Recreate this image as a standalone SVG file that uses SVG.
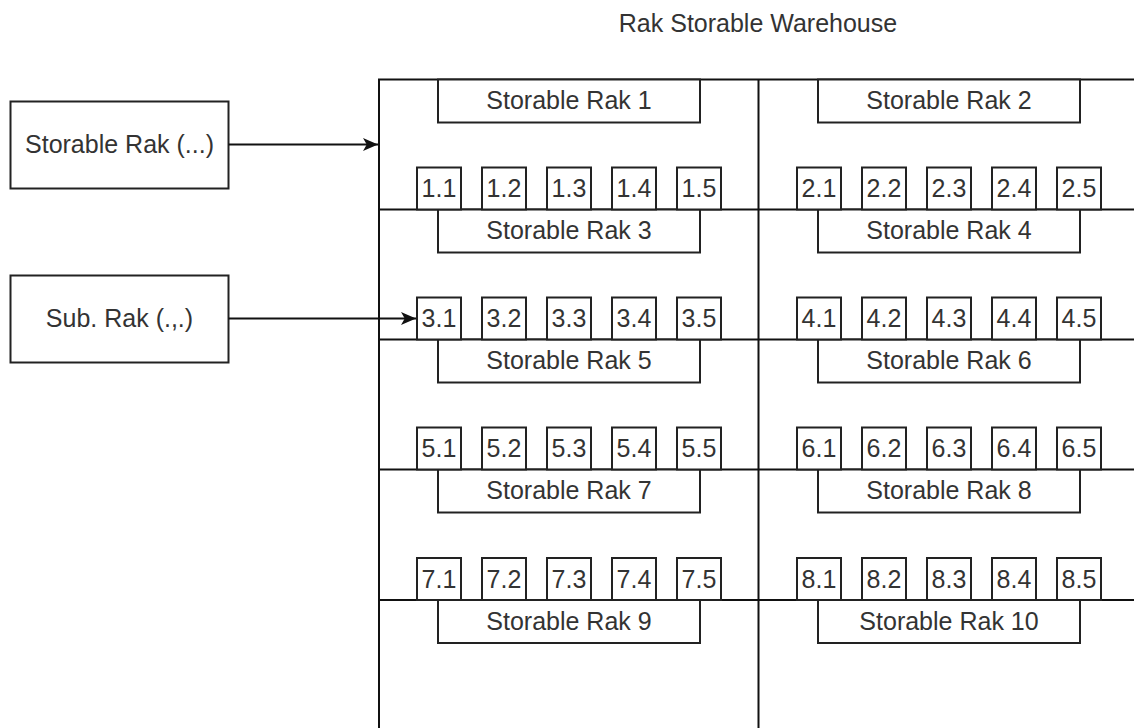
<svg xmlns="http://www.w3.org/2000/svg" width="1134" height="728" viewBox="0 0 1134 728">
<defs>
<style>
.b{fill:#fff;stroke:#222;stroke-width:2}
.w{fill:none;stroke:#111;stroke-width:2}
.t{font-family:"Liberation Sans",Arial,sans-serif;font-size:25px;fill:#333;text-anchor:middle}
.c{stroke:#111;stroke-width:2;fill:none}
</style>
<marker id="ah" viewBox="0 0 10 10" refX="10" refY="5" markerWidth="15" markerHeight="13" markerUnits="userSpaceOnUse" orient="auto" preserveAspectRatio="none">
<path d="M0,0 L10,5 L0,10 L2.5,5 Z" fill="#111"/>
</marker>
<g id="sub"><rect class="b" x="0" y="0" width="44" height="42"/></g>
</defs>
<rect width="1134" height="728" fill="#fff"/>
<text class="t" x="758" y="32">Rak Storable Warehouse</text>
<g id="warehouse">
<path class="w" d="M379,728 V79.5 H1134 M758.5,79.5 V728 M379,209.5 H1134 M379,339.5 H1134 M379,469.5 H1134 M379,600 H1134"/>
</g>
<g id="rak1"><rect class="b" x="438" y="79.5" width="262" height="43"/><text class="t" x="569" y="109">Storable Rak 1</text></g>
<g id="rak2"><rect class="b" x="818" y="79.5" width="262" height="43"/><text class="t" x="949" y="109">Storable Rak 2</text></g>
<g id="rak3"><rect class="b" x="438" y="209.5" width="262" height="43"/><text class="t" x="569" y="239">Storable Rak 3</text></g>
<g id="rak4"><rect class="b" x="818" y="209.5" width="262" height="43"/><text class="t" x="949" y="239">Storable Rak 4</text></g>
<g id="rak5"><rect class="b" x="438" y="339.5" width="262" height="43"/><text class="t" x="569" y="369">Storable Rak 5</text></g>
<g id="rak6"><rect class="b" x="818" y="339.5" width="262" height="43"/><text class="t" x="949" y="369">Storable Rak 6</text></g>
<g id="rak7"><rect class="b" x="438" y="469.5" width="262" height="43"/><text class="t" x="569" y="499">Storable Rak 7</text></g>
<g id="rak8"><rect class="b" x="818" y="469.5" width="262" height="43"/><text class="t" x="949" y="499">Storable Rak 8</text></g>
<g id="rak9"><rect class="b" x="438" y="600" width="262" height="43"/><text class="t" x="569" y="630">Storable Rak 9</text></g>
<g id="rak10"><rect class="b" x="818" y="600" width="262" height="43"/><text class="t" x="949" y="630">Storable Rak 10</text></g>

<g id="subs1">
<g id="s1-1"><use href="#sub" x="417" y="167.5"/><text class="t" x="439" y="197">1.1</text></g>
<g id="s1-2"><use href="#sub" x="482" y="167.5"/><text class="t" x="504" y="197">1.2</text></g>
<g id="s1-3"><use href="#sub" x="547" y="167.5"/><text class="t" x="569" y="197">1.3</text></g>
<g id="s1-4"><use href="#sub" x="612" y="167.5"/><text class="t" x="634" y="197">1.4</text></g>
<g id="s1-5"><use href="#sub" x="677" y="167.5"/><text class="t" x="699" y="197">1.5</text></g>
</g>
<g id="subs2">
<g id="s2-1"><use href="#sub" x="797" y="167.5"/><text class="t" x="819" y="197">2.1</text></g>
<g id="s2-2"><use href="#sub" x="862" y="167.5"/><text class="t" x="884" y="197">2.2</text></g>
<g id="s2-3"><use href="#sub" x="927" y="167.5"/><text class="t" x="949" y="197">2.3</text></g>
<g id="s2-4"><use href="#sub" x="992" y="167.5"/><text class="t" x="1014" y="197">2.4</text></g>
<g id="s2-5"><use href="#sub" x="1057" y="167.5"/><text class="t" x="1079" y="197">2.5</text></g>
</g>
<g id="subs3">
<g id="s3-1"><use href="#sub" x="417" y="297.5"/><text class="t" x="439" y="327">3.1</text></g>
<g id="s3-2"><use href="#sub" x="482" y="297.5"/><text class="t" x="504" y="327">3.2</text></g>
<g id="s3-3"><use href="#sub" x="547" y="297.5"/><text class="t" x="569" y="327">3.3</text></g>
<g id="s3-4"><use href="#sub" x="612" y="297.5"/><text class="t" x="634" y="327">3.4</text></g>
<g id="s3-5"><use href="#sub" x="677" y="297.5"/><text class="t" x="699" y="327">3.5</text></g>
</g>
<g id="subs4">
<g id="s4-1"><use href="#sub" x="797" y="297.5"/><text class="t" x="819" y="327">4.1</text></g>
<g id="s4-2"><use href="#sub" x="862" y="297.5"/><text class="t" x="884" y="327">4.2</text></g>
<g id="s4-3"><use href="#sub" x="927" y="297.5"/><text class="t" x="949" y="327">4.3</text></g>
<g id="s4-4"><use href="#sub" x="992" y="297.5"/><text class="t" x="1014" y="327">4.4</text></g>
<g id="s4-5"><use href="#sub" x="1057" y="297.5"/><text class="t" x="1079" y="327">4.5</text></g>
</g>
<g id="subs5">
<g id="s5-1"><use href="#sub" x="417" y="427.5"/><text class="t" x="439" y="457">5.1</text></g>
<g id="s5-2"><use href="#sub" x="482" y="427.5"/><text class="t" x="504" y="457">5.2</text></g>
<g id="s5-3"><use href="#sub" x="547" y="427.5"/><text class="t" x="569" y="457">5.3</text></g>
<g id="s5-4"><use href="#sub" x="612" y="427.5"/><text class="t" x="634" y="457">5.4</text></g>
<g id="s5-5"><use href="#sub" x="677" y="427.5"/><text class="t" x="699" y="457">5.5</text></g>
</g>
<g id="subs6">
<g id="s6-1"><use href="#sub" x="797" y="427.5"/><text class="t" x="819" y="457">6.1</text></g>
<g id="s6-2"><use href="#sub" x="862" y="427.5"/><text class="t" x="884" y="457">6.2</text></g>
<g id="s6-3"><use href="#sub" x="927" y="427.5"/><text class="t" x="949" y="457">6.3</text></g>
<g id="s6-4"><use href="#sub" x="992" y="427.5"/><text class="t" x="1014" y="457">6.4</text></g>
<g id="s6-5"><use href="#sub" x="1057" y="427.5"/><text class="t" x="1079" y="457">6.5</text></g>
</g>
<g id="subs7">
<g id="s7-1"><use href="#sub" x="417" y="558"/><text class="t" x="439" y="587.5">7.1</text></g>
<g id="s7-2"><use href="#sub" x="482" y="558"/><text class="t" x="504" y="587.5">7.2</text></g>
<g id="s7-3"><use href="#sub" x="547" y="558"/><text class="t" x="569" y="587.5">7.3</text></g>
<g id="s7-4"><use href="#sub" x="612" y="558"/><text class="t" x="634" y="587.5">7.4</text></g>
<g id="s7-5"><use href="#sub" x="677" y="558"/><text class="t" x="699" y="587.5">7.5</text></g>
</g>
<g id="subs8">
<g id="s8-1"><use href="#sub" x="797" y="558"/><text class="t" x="819" y="587.5">8.1</text></g>
<g id="s8-2"><use href="#sub" x="862" y="558"/><text class="t" x="884" y="587.5">8.2</text></g>
<g id="s8-3"><use href="#sub" x="927" y="558"/><text class="t" x="949" y="587.5">8.3</text></g>
<g id="s8-4"><use href="#sub" x="992" y="558"/><text class="t" x="1014" y="587.5">8.4</text></g>
<g id="s8-5"><use href="#sub" x="1057" y="558"/><text class="t" x="1079" y="587.5">8.5</text></g>
</g>

<g id="legend-rak"><rect class="b" x="10.5" y="101.5" width="218" height="87"/><text class="t" x="119.5" y="153">Storable Rak (...)</text></g>
<g id="legend-sub"><rect class="b" x="10.5" y="275.5" width="218" height="87"/><text class="t" x="119.5" y="327">Sub. Rak (.,.)</text></g>

<g id="connectors">
<path class="c" d="M228.5,144.5 H378" marker-end="url(#ah)"/>
<path class="c" d="M228.5,318.5 H416" marker-end="url(#ah)"/>
</g>
</svg>
